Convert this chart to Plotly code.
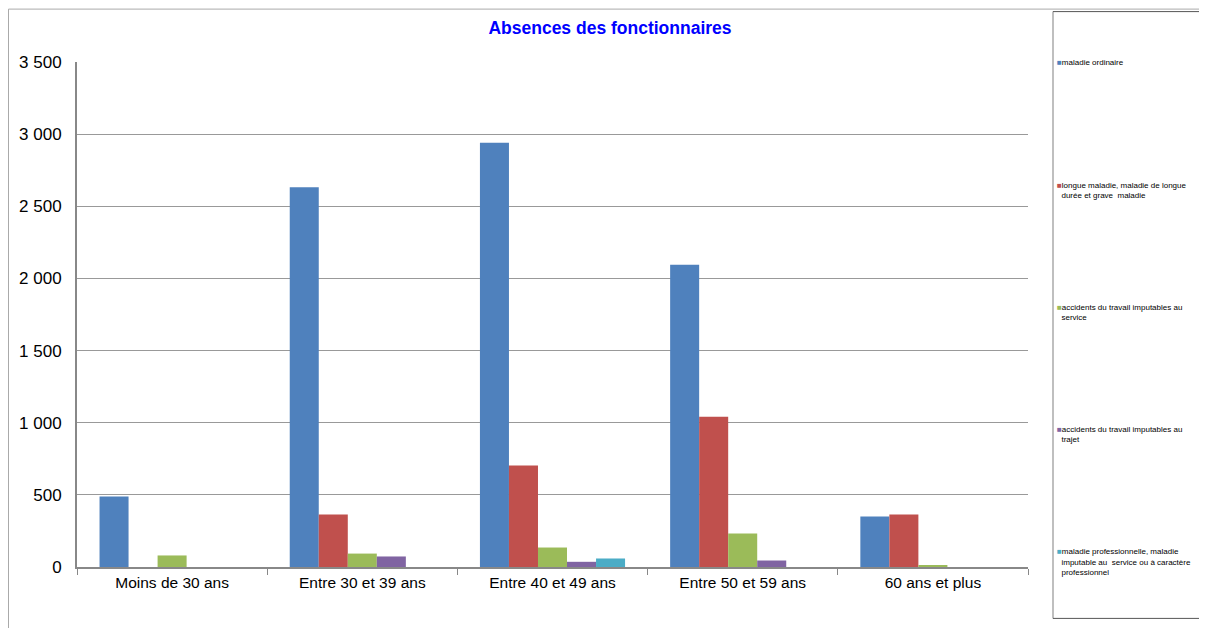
import plotly.graph_objects as go

categories = ["Moins de 30 ans", "Entre 30 et 39 ans", "Entre 40 et 49 ans", "Entre 50 et 59 ans", "60 ans et plus"]
series_names = [
    "maladie ordinaire",
    "longue maladie, maladie de longue<br>durée et grave  maladie",
    "accidents du travail imputables au<br>service",
    "accidents du travail imputables au<br>trajet",
    "maladie professionnelle, maladie<br>imputable au  service ou à caractère<br>professionnel",
]
maladie_ordinaire = [488, 2632, 2941, 2095, 350]
longue_maladie = [0, 364, 704, 1042, 364]
accidents_service = [80, 93, 135, 232, 10]
accidents_trajet = [0, 73, 36, 45, 0]
maladie_pro = [0, 0, 59, 0, 0]
colors = ["#4F81BD", "#C0504D", "#9BBB59", "#8064A2", "#4BACC6"]
y_ticks = [0, 500, 1000, 1500, 2000, 2500, 3000, 3500]

values = [maladie_ordinaire, longue_maladie, accidents_service, accidents_trajet, maladie_pro]

fig = go.Figure()
for i, (name, vals, col) in enumerate(zip(series_names, values, colors)):
    fig.add_trace(go.Bar(
        x=categories, y=vals, name=name, legendgroup=str(i), showlegend=False,
        marker=dict(color=col, line=dict(width=0)),
    ))
    # legend entry: colored square glyph + label, padded to equal height
    lines = name.split("<br>")
    label = f"<span style='color:{col}'>■</span>" + lines[0]
    for ln in lines[1:]:
        label += "<br>&nbsp;&nbsp;" + ln
    label += "<br>&nbsp;" * (3 - len(lines))
    fig.add_trace(go.Scatter(
        x=[None], y=[None], mode="markers", name=label, legendgroup=str(i), showlegend=True,
        marker=dict(size=1, color="rgba(0,0,0,0)"), hoverinfo="skip",
    ))

# page body has an 8px offset; plot area on screen: x 77..1028, y 61.5..567.5
OFF = 8
FW, FH = 1207 - OFF, 628 - OFF       # figure size that fits the window
L, T = 77 - OFF, 61.5 - OFF          # plot area top-left in figure px
W, H = 951, 506                      # plot area size
def px(xf):  # figure px -> paper x
    return (xf - L) / W
def py(yf):  # figure px (from top) -> paper y
    return 1 - (yf - T) / H

fig.update_layout(
    width=FW, height=FH,
    barmode="group", bargap=0.237, bargroupgap=0,
    separators=", ",
    paper_bgcolor="white", plot_bgcolor="white",
    margin=dict(l=L, r=FW - (L + W), t=T, b=FH - (T + H), autoexpand=False),
    font=dict(family="Liberation Sans, Arial", color="black"),
    title=dict(text="<b>Absences des fonctionnaires</b>", font=dict(size=17.5, color="#0000FF"),
               x=(610 - OFF) / FW, xref="container", xanchor="center",
               y=1 - (28 - OFF) / FH, yanchor="middle"),
    legend=dict(x=px(1057 - 40 - OFF), y=py(57 - OFF - 7), xanchor="left", yanchor="top",
                font=dict(size=8), tracegroupgap=88, traceorder="grouped", valign="top",
                bgcolor="rgba(0,0,0,0)", itemwidth=30, maxheight=FH),
    showlegend=True,
)
fig.update_xaxes(showline=True, linecolor="#888888", linewidth=2, ticks="outside", tickson="boundaries",
                 tickcolor="#888888", ticklen=6, tickfont=dict(size=15.5), showgrid=False)
fig.update_yaxes(range=[0, 3500], tickvals=y_ticks, tickformat=",", showline=True, linecolor="#888888",
                 linewidth=2, gridcolor="#999999", gridwidth=1, tickfont=dict(size=17), zeroline=False,
                 ticks="", ticklabelstandoff=10)

# chart outer frame (top and left)
fig.add_shape(type="line", xref="paper", yref="paper", x0=px(0.5), x1=px(FW + 5),
              y0=py(0.5), y1=py(0.5), line=dict(color="#aaaaaa", width=1))
fig.add_shape(type="line", xref="paper", yref="paper", x0=px(0.5), x1=px(0.5),
              y0=py(0.5), y1=py(FH + 5), line=dict(color="#aaaaaa", width=1))
# legend frame: light left, darker top/bottom, right edge beyond the page
fig.add_shape(type="line", xref="paper", yref="paper", x0=px(1045), x1=px(1045),
              y0=py(3), y1=py(611), line=dict(color="#aaaaaa", width=1.5))
fig.add_shape(type="line", xref="paper", yref="paper", x0=px(1045), x1=px(FW + 5),
              y0=py(3), y1=py(3), line=dict(color="#555555", width=1))
fig.add_shape(type="line", xref="paper", yref="paper", x0=px(1045), x1=px(FW + 5),
              y0=py(611), y1=py(611), line=dict(color="#555555", width=1))

fig.write_html("out.html")
